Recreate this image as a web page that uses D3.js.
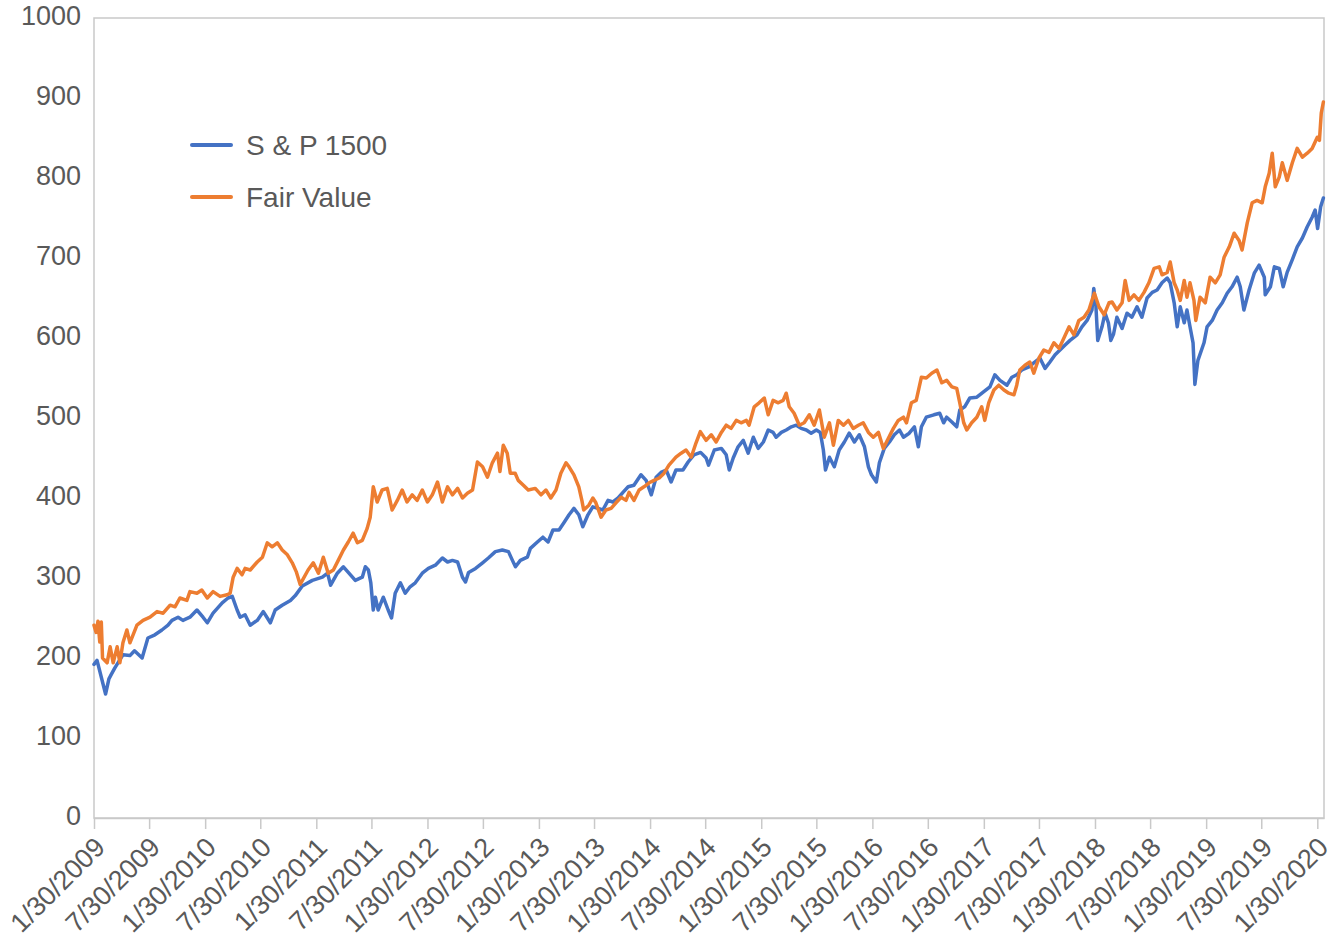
<!DOCTYPE html>
<html>
<head>
<meta charset="utf-8">
<script src="https://cdn.jsdelivr.net/npm/d3@7"></script>
<style>
  html, body { margin: 0; padding: 0; background: #fff; }
  svg { display: block; font-family: "Liberation Sans", Arial, Helvetica, sans-serif; }
</style>
</head>
<body>
<svg id="chart" width="1337" height="950"></svg>
<script>
// ---------- DATA ----------
const seriesNames = ["S & P 1500", "Fair Value"];
const yTicks = [0, 100, 200, 300, 400, 500, 600, 700, 800, 900, 1000];
const xTickLabels = ["1/30/2009","7/30/2009","1/30/2010","7/30/2010","1/30/2011","7/30/2011","1/30/2012","7/30/2012","1/30/2013","7/30/2013","1/30/2014","7/30/2014","1/30/2015","7/30/2015","1/30/2016","7/30/2016","1/30/2017","7/30/2017","1/30/2018","7/30/2018","1/30/2019","7/30/2019","1/30/2020"];
const xDomain = ["2009-01-30", "2020-02-21"];

const spDates = ["2009-01-30","2009-02-09","2009-03-09","2009-03-20","2009-03-30","2009-04-09","2009-05-05","2009-05-28","2009-06-12","2009-07-07","2009-07-26","2009-08-18","2009-09-10","2009-09-30","2009-10-13","2009-11-02","2009-11-18","2009-12-11","2010-01-03","2010-01-23","2010-02-06","2010-02-25","2010-03-27","2010-04-15","2010-04-29","2010-05-15","2010-05-25","2010-06-10","2010-06-27","2010-07-20","2010-08-09","2010-09-01","2010-09-17","2010-10-10","2010-11-06","2010-11-22","2010-12-15","2011-01-17","2011-02-19","2011-03-08","2011-03-18","2011-04-09","2011-04-29","2011-05-15","2011-06-07","2011-06-30","2011-07-10","2011-07-20","2011-07-28","2011-08-05","2011-08-12","2011-08-21","2011-09-07","2011-09-23","2011-10-04","2011-10-16","2011-11-02","2011-11-18","2011-12-04","2011-12-21","2012-01-13","2012-02-02","2012-02-25","2012-03-19","2012-04-05","2012-04-21","2012-05-08","2012-05-24","2012-06-03","2012-06-13","2012-07-06","2012-07-29","2012-08-17","2012-09-09","2012-10-02","2012-10-22","2012-11-04","2012-11-14","2012-11-30","2012-12-23","2013-01-02","2013-01-25","2013-02-12","2013-03-01","2013-03-17","2013-04-06","2013-04-22","2013-05-09","2013-05-25","2013-06-10","2013-06-23","2013-07-10","2013-07-26","2013-08-12","2013-08-28","2013-09-14","2013-09-30","2013-10-17","2013-11-02","2013-11-19","2013-12-08","2013-12-31","2014-01-17","2014-02-03","2014-02-19","2014-03-07","2014-03-24","2014-04-09","2014-04-25","2014-05-18","2014-06-04","2014-06-23","2014-07-15","2014-08-02","2014-08-10","2014-08-29","2014-09-21","2014-10-07","2014-10-17","2014-10-30","2014-11-15","2014-12-02","2014-12-18","2015-01-04","2015-01-20","2015-02-06","2015-02-22","2015-03-10","2015-03-20","2015-04-06","2015-04-22","2015-05-09","2015-05-25","2015-06-10","2015-06-27","2015-07-13","2015-07-30","2015-08-12","2015-08-22","2015-08-29","2015-09-11","2015-09-27","2015-10-13","2015-10-30","2015-11-15","2015-12-02","2015-12-18","2016-01-04","2016-01-17","2016-01-27","2016-02-12","2016-02-22","2016-03-09","2016-03-26","2016-04-11","2016-04-28","2016-05-11","2016-05-30","2016-06-16","2016-06-29","2016-07-09","2016-07-25","2016-08-19","2016-09-07","2016-09-20","2016-09-30","2016-10-17","2016-11-02","2016-11-12","2016-11-28","2016-12-15","2017-01-07","2017-01-30","2017-02-19","2017-03-07","2017-03-24","2017-04-16","2017-05-02","2017-05-18","2017-06-04","2017-06-27","2017-07-13","2017-08-02","2017-08-19","2017-09-04","2017-09-21","2017-10-07","2017-10-23","2017-11-09","2017-12-02","2017-12-18","2018-01-04","2018-01-20","2018-01-26","2018-02-02","2018-02-08","2018-02-22","2018-03-04","2018-03-15","2018-03-23","2018-04-01","2018-04-12","2018-04-29","2018-05-15","2018-05-31","2018-06-17","2018-07-03","2018-07-20","2018-08-06","2018-08-22","2018-09-07","2018-09-24","2018-10-04","2018-10-17","2018-10-27","2018-11-06","2018-11-19","2018-11-28","2018-12-08","2018-12-18","2018-12-21","2018-12-24","2019-01-03","2019-01-23","2019-02-02","2019-02-19","2019-03-07","2019-03-24","2019-04-09","2019-04-25","2019-05-12","2019-05-22","2019-06-03","2019-06-20","2019-07-07","2019-07-23","2019-08-09","2019-08-12","2019-08-29","2019-09-11","2019-09-27","2019-10-10","2019-10-23","2019-11-09","2019-11-25","2019-12-12","2019-12-28","2020-01-13","2020-01-23","2020-01-31","2020-02-10","2020-02-19"];
const spValues = [192,197,155,174,181,188,204,203,209,200,225,229,235,241,247,251,247,251,260,251,244,256,269,275,277,260,251,254,241,247,258,244,260,266,272,278,290,297,301,306,291,306,314,307,297,301,314,310,294,260,276,260,276,260,250,281,294,281,289,294,306,312,316,325,320,322,320,301,295,307,312,319,325,333,335,333,322,314,322,326,337,345,351,345,360,360,369,379,387,379,364,379,389,387,385,397,395,400,407,414,416,429,422,404,426,432,435,420,435,435,445,454,457,450,441,460,462,454,435,450,464,472,456,476,462,470,485,482,476,482,485,489,491,487,485,481,485,482,460,435,451,439,460,470,481,470,479,464,439,429,420,444,462,470,479,485,476,481,489,464,489,501,504,506,494,501,495,489,510,514,525,526,533,539,554,547,541,551,554,560,564,569,575,562,570,579,585,591,597,604,614,622,635,662,640,597,614,631,619,597,605,626,612,631,626,639,626,650,657,660,669,675,669,644,614,639,619,635,614,594,569,542,572,594,614,622,635,644,656,664,676,664,635,660,681,691,676,654,664,689,687,664,682,698,714,725,739,751,760,737,764,775];

const fvDates = ["2009-01-30","2009-02-06","2009-02-12","2009-02-18","2009-02-23","2009-02-27","2009-03-14","2009-03-24","2009-04-03","2009-04-16","2009-04-25","2009-05-05","2009-05-18","2009-05-28","2009-06-20","2009-07-10","2009-08-02","2009-08-25","2009-09-14","2009-10-07","2009-10-23","2009-11-08","2009-12-01","2009-12-11","2010-01-03","2010-01-19","2010-02-06","2010-02-25","2010-03-20","2010-04-12","2010-04-22","2010-05-02","2010-05-15","2010-05-31","2010-06-10","2010-06-27","2010-07-20","2010-08-06","2010-08-22","2010-09-07","2010-09-24","2010-10-10","2010-10-27","2010-11-12","2010-11-25","2010-12-08","2011-01-03","2011-01-20","2011-02-06","2011-02-22","2011-03-10","2011-03-27","2011-04-12","2011-04-29","2011-05-15","2011-05-31","2011-06-14","2011-06-30","2011-07-16","2011-07-26","2011-08-05","2011-08-18","2011-09-03","2011-09-20","2011-10-06","2011-10-23","2011-11-08","2011-11-24","2011-12-11","2011-12-27","2012-01-13","2012-01-30","2012-02-15","2012-03-03","2012-03-19","2012-04-05","2012-04-21","2012-05-08","2012-05-24","2012-06-09","2012-06-26","2012-07-12","2012-07-29","2012-08-14","2012-08-30","2012-09-16","2012-09-24","2012-10-05","2012-10-18","2012-10-28","2012-11-13","2012-11-23","2012-12-10","2012-12-26","2013-01-18","2013-02-06","2013-02-22","2013-03-10","2013-03-27","2013-04-12","2013-04-29","2013-05-09","2013-05-25","2013-06-10","2013-06-20","2013-06-26","2013-07-13","2013-07-26","2013-08-05","2013-08-22","2013-09-07","2013-09-24","2013-10-10","2013-10-27","2013-11-12","2013-11-22","2013-12-08","2013-12-25","2014-01-10","2014-01-27","2014-02-12","2014-03-01","2014-03-17","2014-04-02","2014-04-25","2014-05-12","2014-05-28","2014-06-14","2014-06-30","2014-07-14","2014-08-02","2014-08-19","2014-09-04","2014-09-21","2014-10-07","2014-10-23","2014-11-09","2014-11-25","2014-12-12","2014-12-21","2015-01-07","2015-01-23","2015-02-09","2015-02-22","2015-03-10","2015-03-27","2015-04-12","2015-04-22","2015-05-02","2015-05-18","2015-06-04","2015-06-20","2015-07-07","2015-07-23","2015-08-09","2015-08-25","2015-09-11","2015-09-24","2015-10-10","2015-10-27","2015-11-12","2015-11-28","2015-12-15","2015-12-31","2016-01-17","2016-02-02","2016-02-19","2016-03-06","2016-03-23","2016-04-08","2016-04-24","2016-05-11","2016-05-21","2016-06-06","2016-06-22","2016-07-09","2016-07-25","2016-08-12","2016-08-29","2016-09-14","2016-09-30","2016-10-17","2016-11-02","2016-11-12","2016-11-25","2016-12-05","2016-12-21","2017-01-07","2017-01-23","2017-02-02","2017-02-15","2017-03-04","2017-03-20","2017-04-06","2017-04-22","2017-05-09","2017-05-18","2017-05-28","2017-06-14","2017-06-30","2017-07-13","2017-07-30","2017-08-15","2017-09-01","2017-09-17","2017-10-04","2017-10-20","2017-11-06","2017-11-22","2017-12-08","2017-12-25","2018-01-10","2018-01-20","2018-01-28","2018-02-12","2018-03-01","2018-03-17","2018-03-27","2018-04-12","2018-04-29","2018-05-09","2018-05-22","2018-06-07","2018-06-23","2018-07-10","2018-07-26","2018-08-12","2018-08-29","2018-09-07","2018-09-24","2018-10-04","2018-10-17","2018-10-27","2018-11-06","2018-11-19","2018-11-28","2018-12-08","2018-12-21","2018-12-27","2019-01-10","2019-01-27","2019-02-12","2019-03-01","2019-03-17","2019-03-30","2019-04-16","2019-05-02","2019-05-18","2019-05-28","2019-06-14","2019-06-30","2019-07-16","2019-08-02","2019-08-12","2019-08-25","2019-09-04","2019-09-14","2019-09-27","2019-10-07","2019-10-23","2019-11-09","2019-11-25","2019-12-12","2019-12-28","2020-01-13","2020-01-30","2020-02-06","2020-02-12","2020-02-19"];
const fvValues = [241,232,246,220,245,200,194,214,194,214,194,219,235,219,241,247,251,258,256,266,264,275,272,283,281,285,275,283,277,279,281,301,312,304,312,310,320,326,344,339,344,335,329,319,308,292,310,319,306,326,306,310,322,335,345,356,344,347,362,376,414,395,410,412,385,397,410,395,404,397,410,395,404,420,395,414,404,412,400,406,410,445,439,426,444,456,433,466,456,431,431,422,416,410,412,404,410,400,410,431,444,439,429,414,397,385,391,400,394,376,385,387,394,401,397,407,397,410,414,419,422,425,431,441,451,456,460,451,469,483,472,479,470,482,491,487,497,494,497,491,514,519,525,504,522,519,522,531,514,506,491,494,504,491,510,476,494,466,497,491,497,487,491,494,482,476,482,462,475,487,497,501,494,519,522,551,550,556,560,544,547,539,537,519,494,485,494,501,514,497,519,535,541,535,531,529,541,560,566,570,556,575,585,582,594,587,600,614,604,622,626,635,647,656,639,629,644,645,635,644,672,647,654,647,657,669,687,689,679,682,695,669,660,647,672,651,669,647,622,651,644,676,669,679,701,714,731,722,710,744,769,772,769,789,806,831,789,801,819,797,819,837,826,831,837,851,847,881,895];

// ---------- CHART ----------
const W = 1337, H = 950;
const m = { left: 94, right: 13, top: 18, bottom: 132 };
const plotW = W - m.left - m.right;   // 1230
const plotH = H - m.top - m.bottom;   // 800
const colors = ["#4472C4", "#ED7D31"];
const textColor = "#595959";
const frameColor = "#c9c9c9";

const parse = d3.timeParse("%Y-%m-%d");
const parseTick = d3.timeParse("%m/%d/%Y");

const x = d3.scaleTime().domain(xDomain.map(parse)).range([0, plotW]);
const y = d3.scaleLinear().domain([0, 1000]).range([plotH, 0]);

const svg = d3.select("#chart");
const g = svg.append("g").attr("transform", `translate(${m.left},${m.top})`);

// frame
g.append("rect")
  .attr("x", 0).attr("y", 0).attr("width", plotW).attr("height", plotH)
  .attr("fill", "none").attr("stroke", frameColor).attr("stroke-width", 1.5);

// y axis labels
const yAxis = d3.axisLeft(y).tickValues(yTicks).tickFormat(d3.format("d")).tickSize(0).tickPadding(13);
const yg = g.append("g").call(yAxis);
yg.select(".domain").remove();
yg.selectAll("text")
  .attr("fill", textColor)
  .attr("font-size", 27)
  .attr("dy", "0.24em")
  .style("font-family", "'Liberation Sans', Arial, sans-serif");

// x axis
const tickDates = xTickLabels.map(parseTick);
const xAxis = d3.axisBottom(x).tickValues(tickDates)
  .tickFormat((d, i) => xTickLabels[i]).tickSize(11).tickSizeOuter(0);
const xg = g.append("g").attr("transform", `translate(0,${plotH})`).call(xAxis);
xg.select(".domain").attr("stroke", frameColor).attr("stroke-width", 1.5);
xg.selectAll(".tick line").attr("stroke", frameColor).attr("stroke-width", 1.5);
xg.selectAll("text")
  .attr("fill", textColor)
  .attr("font-size", 27)
  .style("font-family", "'Liberation Sans', Arial, sans-serif")
  .attr("text-anchor", "end")
  .attr("y", 0).attr("dy", 0)
  .attr("transform", "translate(12,31) rotate(-45)");

// lines
const sp = spDates.map((d, i) => ({ date: parse(d), value: spValues[i] }));
const fv = fvDates.map((d, i) => ({ date: parse(d), value: fvValues[i] }));
const line = d3.line().x(d => x(d.date)).y(d => y(d.value));

[sp, fv].forEach((data, i) => {
  g.append("path")
    .datum(data)
    .attr("fill", "none")
    .attr("stroke", colors[i])
    .attr("stroke-width", 3.5)
    .attr("stroke-linejoin", "round")
    .attr("stroke-linecap", "round")
    .attr("d", line);
});

// legend
const legend = svg.append("g").attr("transform", "translate(192,145)");
seriesNames.forEach((name, i) => {
  const row = legend.append("g").attr("transform", `translate(0,${i * 52})`);
  row.append("line").attr("x1", 0).attr("x2", 39).attr("y1", 0).attr("y2", 0)
    .attr("stroke", colors[i]).attr("stroke-width", 4).attr("stroke-linecap", "round");
  row.append("text").attr("x", 54).attr("y", 10)
    .attr("fill", textColor).attr("font-size", 28)
    .style("font-family", "'Liberation Sans', Arial, sans-serif")
    .text(name);
});
</script>
</body>
</html>
